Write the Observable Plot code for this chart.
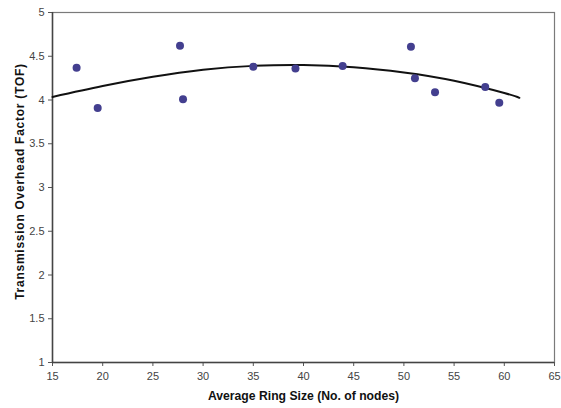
<!DOCTYPE html>
<html>
<head>
<meta charset="utf-8">
<script src="https://cdn.jsdelivr.net/npm/d3@7"></script>
<script src="https://cdn.jsdelivr.net/npm/@observablehq/plot@0.6"></script>
<style>
  html, body { margin: 0; padding: 0; background: #fff; }
  #chart svg { display: block; }
  .ytitle text { letter-spacing: 0.75px; }
</style>
</head>
<body>
<div id="chart"></div>
<script>
// Scatter data: average ring size vs TOF
const ringSize = [17.4, 19.5, 27.7, 28.0, 35.0, 39.2, 43.9, 50.7, 51.1, 53.1, 58.1, 59.5];
const tof      = [4.37, 3.91, 4.62, 4.01, 4.38, 4.36, 4.39, 4.61, 4.25, 4.09, 4.15, 3.97];

// Trend line
const trendX = [15, 20, 25, 30, 35, 40, 45, 50, 55, 60, 61.5];
const trendY = [4.035, 4.16, 4.265, 4.345, 4.39, 4.40, 4.375, 4.315, 4.22, 4.08, 4.025];

// Tick values
const xTicks = [15, 20, 25, 30, 35, 40, 45, 50, 55, 60, 65];
const yTicks = [1, 1.5, 2, 2.5, 3, 3.5, 4, 4.5, 5];

const xTitle = "Average Ring Size (No. of nodes)";
const yTitle = "Transmission Overhead Factor (TOF)";

const points = ringSize.map((x, i) => ({x, y: tof[i]}));
const trend = trendX.map((x, i) => ({x, y: trendY[i]}));

const chart = Plot.plot({
  width: 561,
  height: 408,
  marginLeft: 52,
  marginRight: 7,
  marginTop: 12,
  marginBottom: 46,
  style: {fontFamily: "'Liberation Sans', Arial, sans-serif", fontSize: "11px", background: "#fff"},
  x: {domain: [15, 65]},
  y: {domain: [1, 5]},
  marks: [
    Plot.frame({stroke: "#7a7a7a", strokeWidth: 1.2}),
    Plot.axisX({ticks: xTicks, tickFormat: d => String(d), tickSize: 4, tickPadding: 6, label: null, color: "#444", stroke: "#555"}),
    Plot.axisY({ticks: yTicks, tickFormat: d => String(d), tickSize: 4, tickPadding: 4, label: null, color: "#444", stroke: "#555"}),
    Plot.ruleY([1], {stroke: "#444", strokeWidth: 1.5}),
    Plot.ruleX([15], {stroke: "#444", strokeWidth: 1.5}),
    Plot.line(trend, {x: "x", y: "y", curve: "natural", stroke: "#111", strokeWidth: 2}),
    Plot.dot(points, {x: "x", y: "y", r: 4, fill: "#433f8f", stroke: "none"}),
    Plot.text([xTitle], {frameAnchor: "bottom", dy: 37, textAnchor: "middle", fontWeight: "bold", fontSize: 12.2, fill: "#111", className: "xtitle"}),
    Plot.text([yTitle], {frameAnchor: "left", dx: -32, dy: -6, rotate: -90, textAnchor: "middle", fontWeight: "bold", fontSize: 12, fill: "#111", className: "ytitle"})
  ]
});

document.getElementById("chart").appendChild(chart);
</script>
</body>
</html>
